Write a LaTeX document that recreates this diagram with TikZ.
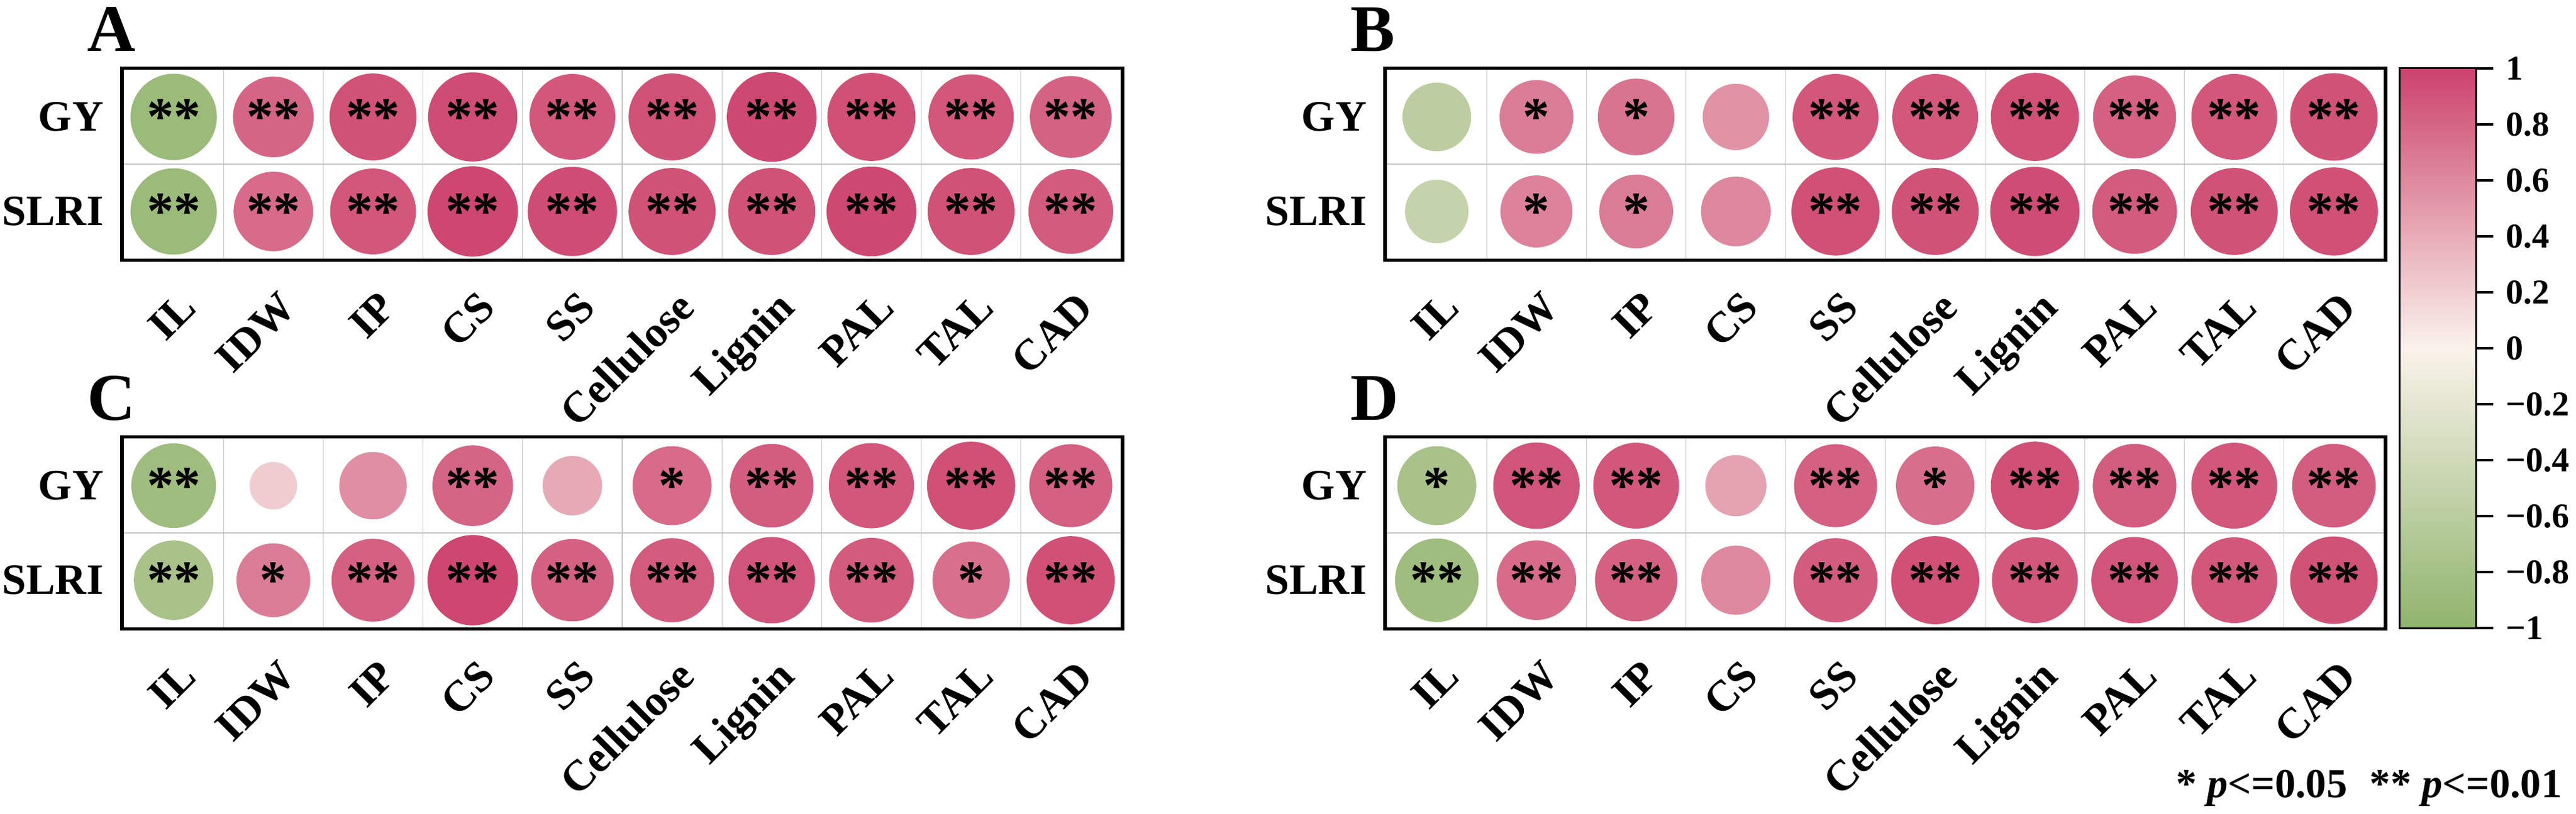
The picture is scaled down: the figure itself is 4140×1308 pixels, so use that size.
\documentclass[tikz,border=0pt]{standalone}
\usepackage{fontspec}
\setmainfont{Liberation Serif}
\usepackage{tikz}
\definecolor{corrpos}{RGB}{204,66,108}
\definecolor{corrmid}{RGB}{250,243,235}
\definecolor{corrneg}{RGB}{143,180,108}
\tikzstyle{corrdot} = [circle,inner sep=0pt,font=\fontsize{24.5}{26}\selectfont\bfseries]
\tikzstyle{rowlab} = [anchor=east,inner sep=0pt,font=\fontsize{19.8}{22}\selectfont\bfseries]
\tikzstyle{collab} = [anchor=base east,rotate=45,inner sep=0pt,font=\fontsize{19.8}{22}\selectfont\bfseries]
\tikzstyle{panellab} = [anchor=base west,inner sep=0pt,font=\fontsize{30.5}{32}\selectfont\bfseries]
\tikzstyle{gridline} = [black!22,line width=0.3pt]
\tikzstyle{boxframe} = [black,line width=1.56pt]
\tikzstyle{cbarbox} = [rectangle,draw=black,line width=0.94pt,inner sep=0pt,minimum width=1.226cm,minimum height=9.01cm,top color=corrpos,bottom color=corrneg,middle color=corrmid]
\tikzstyle{cbartick} = [black,line width=0.94pt]
\tikzstyle{ticklab} = [anchor=west,inner sep=0pt,font=\fontsize{15.9}{17}\selectfont\bfseries]
\tikzstyle{notelab} = [anchor=base east,inner sep=0pt,font=\fontsize{18.9}{20}\selectfont\bfseries]

% one row of circles: panel, row name, y, list of r/stars
\newcommand{\corrrow}[4]{%
\node (#1-#2) [rowlab] at (167,#3) {#2};
\foreach \r/\s [count=\i] in {#4} {
  \pgfmathsetmacro\dd{0.56+0.92*abs(\r)}
  \pgfmathtruncatemacro\pc{100*abs(\r)}
  \ifdim\r pt<0pt\def\hue{corrneg}\else\def\hue{corrpos}\fi
  \node (#1-#2-\i) [corrdot,minimum size=\dd cm,fill=\hue!\pc!corrmid] at (118.9+160.2*\i,#3) {\s};
}}

% one panel: letter, x shift, y shift, GY values, SLRI values
\newcommand{\corrpanel}[5]{%
\begin{scope}[shift={(#2,#3)}]
\node (#1-tag) [panellab] at (140,82) {#1};
\foreach \k in {1,...,9} \draw[gridline] (199+160.2*\k,112) -- (199+160.2*\k,416);
\draw[gridline] (199,264) -- (1801,264);
\corrrow{#1}{GY}{188}{#4}
\corrrow{#1}{SLRI}{340}{#5}
\foreach \c [count=\i] in {IL,IDW,IP,CS,SS,Cellulose,Lignin,PAL,TAL,CAD}
  \node (#1-\c) [collab] at (158.9+160.2*\i,498) {\c};
\draw[boxframe] (196,109.5) rectangle (1804,418.5);
\end{scope}}

\begin{document}
\begin{tikzpicture}[x=0.01cm,y=-0.01cm]
\useasboundingbox (0,0) rectangle (4140,1308);

\corrpanel{A}{0}{0}
  {-0.90/**,0.80/**,0.91/**,0.95/**,0.89/**,0.91/**,0.96/**,0.93/**,0.88/**,0.82/**}
  {-0.90/**,0.78/**,0.89/**,0.97/**,0.95/**,0.91/**,0.91/**,0.96/**,0.91/**,0.87/**}
\corrpanel{B}{2030}{0}
  {-0.59/{},0.68/*,0.73/*,0.55/{},0.89/**,0.89/**,0.93/**,0.84/**,0.89/**,0.92/**}
  {-0.50/{},0.65/*,0.68/*,0.61/{},0.93/**,0.91/**,0.95/**,0.87/**,0.91/**,0.93/**}
\corrpanel{C}{0}{593}
  {-0.87/**,0.22/{},0.57/{},0.80/**,0.43/{},0.77/*,0.85/**,0.88/**,0.93/**,0.84/**}
  {-0.78/**,0.68/*,0.84/**,0.97/**,0.83/**,0.86/**,0.90/**,0.87/**,0.74/*,0.93/**}
\corrpanel{D}{2030}{593}
  {-0.77/*,0.90/**,0.89/**,0.46/{},0.84/**,0.76/*,0.93/**,0.85/**,0.89/**,0.85/**}
  {-0.85/**,0.78/**,0.83/**,0.60/{},0.86/**,0.93/**,0.89/**,0.90/**,0.89/**,0.92/**}

% colour bar
\node (cbar) [cbarbox] at (3918,560) {};
\foreach \v/\t [count=\i] in {1/1,0.8/0.8,0.6/0.6,0.4/0.4,0.2/0.2,0/0,-0.2/−0.2,-0.4/−0.4,-0.6/−0.6,-0.8/−0.8,-1/−1} {
  \node (cbl\i) [ticklab] at (4027,560-450*\v) {\t};
  \draw[cbartick] (cbar.east |- cbl\i.west) -- ++(25.7,0);
}

\node (pnote) [notelab] at (4118,1282) {* {\itshape p}<=0.05\hspace{0.55em}** {\itshape p}<=0.01};

\end{tikzpicture}
\end{document}
